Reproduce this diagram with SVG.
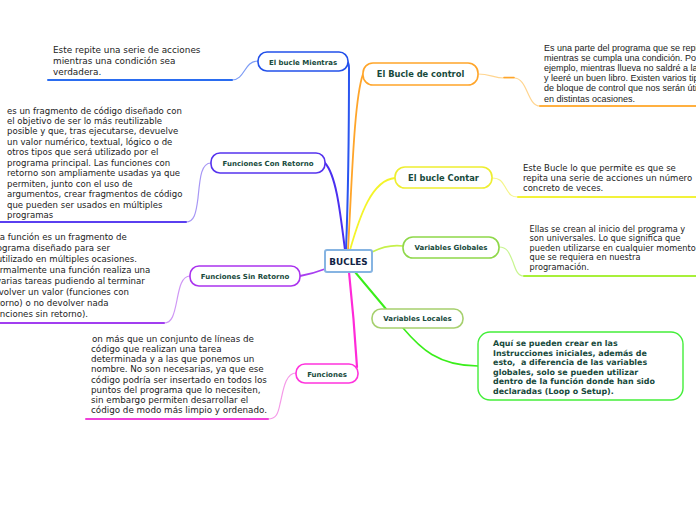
<svg xmlns="http://www.w3.org/2000/svg" width="696" height="520" viewBox="0 0 696 520">
<style>
.node{fill:#ffffff;stroke-width:1.6}
.nt{font-family:"DejaVu Sans",Verdana,sans-serif;font-weight:bold;fill:#174a3c;text-anchor:middle}
.s7{font-size:7px}
.s8{font-size:8.3px}
.body{font-family:"DejaVu Sans",Verdana,sans-serif;fill:#222222}
.arial{font-family:"Liberation Sans",Arial,sans-serif;fill:#222222;font-size:9px}
.c{fill:none;stroke-linecap:round}
</style>
<rect width="696" height="520" fill="#ffffff"/>

<g id="connectors">
  <!-- main branches -->
  <path class="c" d="M346,250 C348,200 349,120 349,68 Q349,62 346,61" stroke="#2a55f0" stroke-width="2"/>
  <path class="c" d="M348,250 C352,180 354,100 363,74" stroke="#ffa52a" stroke-width="1.8"/>
  <path class="c" d="M345,250 C340,210 336,175 325,163" stroke="#4a2ff0" stroke-width="2"/>
  <path class="c" d="M325,269 Q312,274 300,276" stroke="#a83ef0" stroke-width="1.8"/>
  <path class="c" d="M349,272 C352,300 355,335 357,367" stroke="#ff2ad8" stroke-width="2.2"/>
  <path class="c" d="M350,250 C360,215 372,180 395,178" stroke="#f4f42a" stroke-width="1.8"/>
  <path class="c" d="M372,252 Q388,244 403,246" stroke="#c6f04a" stroke-width="1.6"/>
  <path class="c" d="M355,272 L386,309" stroke="#3aee1a" stroke-width="2"/>
  <path class="c" d="M403,328 C420,348 438,366 478,366" stroke="#3aee1a" stroke-width="1.6"/>
  <!-- sub branches to notes -->
  <path class="c" d="M258,61 C244,61 245,80 232,80" stroke="#7d9cf5" stroke-width="1.2"/>
  <path class="c" d="M232,80 H48" stroke="#2a6cf0" stroke-width="2"/>
  <path class="c" d="M211,163 C201,163 200,178 198,198 C196,214 194,222 186,222" stroke="#a797f5" stroke-width="1.2"/>
  <path class="c" d="M186,222 H0" stroke="#5a3ff0" stroke-width="2"/>
  <path class="c" d="M190,276 C181,276 179,290 177,300 C174,315 172,323 164,323" stroke="#cf97f5" stroke-width="1.2"/>
  <path class="c" d="M164,323 H0" stroke="#a23ef0" stroke-width="2"/>
  <path class="c" d="M296,373 C285,373 283,392 280,404 C278,414 276,419 268,419" stroke="#f59ae8" stroke-width="1.2"/>
  <path class="c" d="M268,419 H86" stroke="#f040d8" stroke-width="2"/>
  <path class="c" d="M478,74 C490,74 494,78 504,78 L514,78 C528,78 527,106 540,106" stroke="#ffd590" stroke-width="1.2"/>
  <path class="c" d="M504,77.5 L514,77.5" stroke="#ffa52a" stroke-width="1.6"/>
  <path class="c" d="M540,106 H696" stroke="#ffb040" stroke-width="2"/>
  <path class="c" d="M492,178 C502,178 503,184 507,190 C510,195 512,197 518,197" stroke="#f5f58a" stroke-width="1.2"/>
  <path class="c" d="M518,197 H696" stroke="#f2f23a" stroke-width="2"/>
  <path class="c" d="M499,247 C507,247 509,252 513,262 C516,271 518,276 524,276" stroke="#c8f590" stroke-width="1.2"/>
  <path class="c" d="M524,276 H696" stroke="#a8f03a" stroke-width="2"/>
</g>

<g id="n-bucles">
  <rect x="325" y="250" width="47" height="22" rx="2" fill="#ffffff" stroke="#86b4e2" stroke-width="2"/>
  <text x="348.5" y="264.5" font-family="DejaVu Sans,Verdana,sans-serif" font-weight="bold" font-size="8.8" fill="#0f2244" text-anchor="middle">BUCLES</text>
</g>

<g id="n-mientras">
  <rect class="node" x="258" y="52" width="90" height="19" rx="9" stroke="#2250ea"/>
  <text class="nt s7" x="303" y="64.5">El bucle Mientras</text>
</g>
<g id="t-mientras" class="body" font-size="8.9">
  <text x="53" y="53">Este repite una serie de acciones</text>
  <text x="53" y="64">mientras una condición sea</text>
  <text x="53" y="75">verdadera.</text>
</g>

<g id="n-control">
  <rect class="node" x="363" y="63" width="115" height="22" rx="10" stroke="#ffa52a"/>
  <text class="nt s8" x="420.5" y="77">El Bucle de control</text>
</g>
<g id="t-control" class="arial">
  <text x="544" y="51">Es una parte del programa que se repite</text>
  <text x="544" y="61.1">mientras se cumpla una condición. Por</text>
  <text x="544" y="71.2">ejemplo, mientras llueva no saldré a la calle</text>
  <text x="544" y="81.3">y leeré un buen libro. Existen varios tipos</text>
  <text x="544" y="91.4">de bloque de control que nos serán útiles</text>
  <text x="544" y="101.5">en distintas ocasiones.</text>
</g>

<g id="n-contar">
  <rect class="node" x="395" y="167" width="97" height="21" rx="10" stroke="#eeee30"/>
  <text class="nt s8" x="443.5" y="180.5">El bucle Contar</text>
</g>
<g id="t-contar" class="body" font-size="8.5">
  <text x="523" y="171">Este Bucle lo que permite es que se</text>
  <text x="523" y="181">repita una serie de acciones un número</text>
  <text x="523" y="191">concreto de veces.</text>
</g>

<g id="n-globales">
  <rect class="node" x="403" y="237" width="96" height="21" rx="10" stroke="#8fd84a"/>
  <text class="nt s7" x="451" y="250">Variables Globales</text>
</g>
<g id="t-globales" class="body" font-size="8.2">
  <text x="529.5" y="231.5">Ellas se crean al inicio del programa y</text>
  <text x="529.5" y="241">son universales. Lo que significa que</text>
  <text x="529.5" y="250.5">pueden utilizarse en cualquier momento</text>
  <text x="529.5" y="260">que se requiera en nuestra</text>
  <text x="529.5" y="269.5">programación.</text>
</g>

<g id="n-locales">
  <rect class="node" x="372" y="309" width="91" height="19" rx="9" stroke="#a6d06e"/>
  <text class="nt s7" x="417.5" y="321">Variables Locales</text>
</g>

<g id="n-locales-nota">
  <rect x="478" y="332" width="205" height="68" rx="12" fill="#ffffff" stroke="#44ee3a" stroke-width="1.4"/>
  <g font-family="DejaVu Sans,Verdana,sans-serif" font-weight="bold" font-size="7.95" fill="#174a3c">
    <text x="493" y="346">Aquí se pueden crear en las</text>
    <text x="493" y="355.5">Instrucciones iniciales, además de</text>
    <text x="493" y="365" xml:space="preserve">esto,  a diferencia de las variables</text>
    <text x="493" y="374.5">globales, solo se pueden utilizar</text>
    <text x="493" y="384">dentro de la función donde han sido</text>
    <text x="493" y="393.5">declaradas (Loop o Setup).</text>
  </g>
</g>

<g id="n-conretorno">
  <rect class="node" x="211" y="153" width="114" height="20" rx="9" stroke="#5533ee"/>
  <text class="nt s7" x="268" y="165.5">Funciones Con Retorno</text>
</g>
<g id="t-conretorno" class="body" font-size="8.55">
  <text x="7" y="113.5">es un fragmento de código diseñado con</text>
  <text x="7" y="124">el objetivo de ser lo más reutilizable</text>
  <text x="7" y="134.4">posible y que, tras ejecutarse, devuelve</text>
  <text x="7" y="144.9">un valor numérico, textual, lógico o de</text>
  <text x="7" y="155.3">otros tipos que será utilizado por el</text>
  <text x="7" y="165.8">programa principal. Las funciones con</text>
  <text x="7" y="176.2">retorno son ampliamente usadas ya que</text>
  <text x="7" y="186.7">permiten, junto con el uso de</text>
  <text x="7" y="197.1">argumentos, crear fragmentos de código</text>
  <text x="7" y="207.6">que pueden ser usados en múltiples</text>
  <text x="7" y="218">programas</text>
</g>

<g id="n-sinretorno">
  <rect class="node" x="190" y="266" width="110" height="20" rx="9" stroke="#aa33ee"/>
  <text class="nt s7" x="245" y="278.5">Funciones Sin Retorno</text>
</g>
<g id="t-sinretorno" class="body" font-size="8.6">
  <text x="-12" y="240">Una función es un fragmento de</text>
  <text x="-12" y="251">programa diseñado para ser</text>
  <text x="-12" y="262">reutilizado en múltiples ocasiones.</text>
  <text x="-12" y="273">Normalmente una función realiza una</text>
  <text x="-12" y="284">o varias tareas pudiendo al terminar</text>
  <text x="-12" y="295">devolver un valor (funciones con</text>
  <text x="-12" y="306">retorno) o no devolver nada</text>
  <text x="-12" y="317">(funciones sin retorno).</text>
</g>

<g id="n-funciones">
  <rect class="node" x="296" y="364" width="62" height="19" rx="9" stroke="#ff33dd"/>
  <text class="nt s7" x="327" y="376.5">Funciones</text>
</g>
<g id="t-funciones" class="body" font-size="8.75">
  <text x="92" y="342">on más que un conjunto de líneas de</text>
  <text x="91" y="352.1">código que realizan una tarea</text>
  <text x="91" y="362.3">determinada y a las que ponemos un</text>
  <text x="91" y="372.4">nombre. No son necesarias, ya que ese</text>
  <text x="91" y="382.6">código podría ser insertado en todos los</text>
  <text x="91" y="392.7">puntos del programa que lo necesiten,</text>
  <text x="91" y="402.9">sin embargo permiten desarrollar el</text>
  <text x="91" y="413">código de modo más limpio y ordenado.</text>
</g>
</svg>
